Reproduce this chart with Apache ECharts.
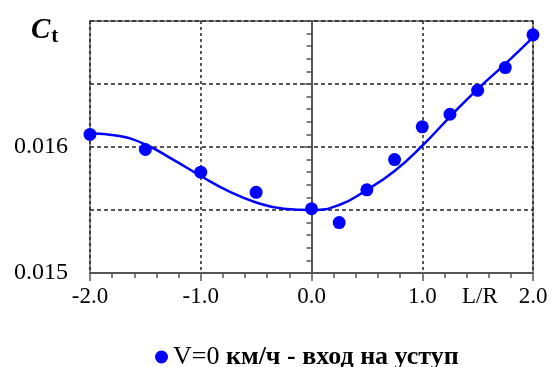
<!DOCTYPE html>
<html lang="ru">
<head>
<meta charset="UTF-8">
<title>Ct vs L/R</title>
<script src="https://cdn.jsdelivr.net/npm/echarts@6/dist/echarts.min.js"></script>
<style>
  html, body { margin: 0; padding: 0; background: #fff; }
  #chart { width: 552px; height: 367px; }
</style>
</head>
<body>
<div id="chart"></div>
<script>
  // measured points
  const pointX = [-2.0, -1.5, -1.0, -0.5, 0.0, 0.25, 0.5, 0.75, 1.0, 1.25, 1.5, 1.75, 2.0];
  const pointCt = [0.01610, 0.01598, 0.01580, 0.01564, 0.01551, 0.01540, 0.01566, 0.01590, 0.01616, 0.01626, 0.01645, 0.01663, 0.01689];

  // fitted curve
  const curveX = [-2.0, -1.75, -1.5, -1.25, -1.0, -0.75, -0.5, -0.25, 0.0, 0.25, 0.5, 0.75, 1.0, 1.25, 1.5, 1.75, 2.0];
  const curveCt = [0.01611, 0.01609, 0.01602, 0.01590, 0.01577, 0.01565, 0.01556, 0.01551, 0.01550, 0.01554, 0.01566, 0.01581, 0.01601, 0.01624, 0.01646, 0.01666, 0.01687];

  const yLabels = [0.015, 0.016];
  const legendName = 'V=0 км/ч - вход на уступ';

  const serif = '"Liberation Serif", "DejaVu Serif", serif';
  const blue = '#0000ff';

  const chart = echarts.init(document.getElementById('chart'));
  chart.setOption({
    animation: false,
    textStyle: { fontFamily: serif },
    title: {
      text: '{c|C}{t|t}',
      left: 26, top: 9,
      textStyle: {
        rich: {
          c: { fontFamily: serif, fontStyle: 'italic', fontWeight: 'bold', fontSize: 29, color: '#000' },
          t: { fontFamily: serif, fontWeight: 'bold', fontSize: 21, color: '#000', padding: [12, 0, 0, 1] }
        }
      }
    },
    graphic: [{
      type: 'text', left: 462, top: 285,
      style: { text: 'L/R', font: '23px ' + serif, fill: '#000' }
    }],
    legend: {
      left: 150, top: 339,
      itemWidth: 13, itemHeight: 13, itemGap: 10,
      data: [{ name: legendName, icon: 'circle' }],
      formatter: () => '{a|V=0 }{b|км/ч - вход на уступ}',
      textStyle: {
        rich: {
          a: { fontFamily: serif, fontSize: 26, color: '#000' },
          b: { fontFamily: serif, fontSize: 26, fontWeight: 'bold', color: '#000' }
        }
      }
    },
    grid: {
      left: 90, right: 19, top: 21, bottom: 94,
      show: true, borderColor: '#888', borderWidth: 2
    },
    xAxis: {
      type: 'value', min: -2, max: 2, interval: 1,
      axisLine: { lineStyle: { color: '#555', width: 2 } },
      axisTick: { length: 8, lineStyle: { color: '#555', width: 1.5 } },
      minorTick: { show: true, splitNumber: 5, length: 5, lineStyle: { color: '#555', width: 1.5 } },
      splitLine: { show: true, lineStyle: { color: '#222', type: [3, 3], width: 1.5 } },
      axisLabel: {
        margin: 12, fontSize: 23, color: '#000', fontFamily: serif,
        formatter: v => v.toFixed(1)
      }
    },
    yAxis: {
      type: 'value', min: 0.015, max: 0.017, interval: 0.0005,
      axisLine: { show: true, lineStyle: { color: '#555', width: 2 } },
      axisTick: { show: true, length: 8, lineStyle: { color: '#555', width: 1.5 } },
      minorTick: { show: true, splitNumber: 5, length: 5, lineStyle: { color: '#555', width: 1.5 } },
      splitLine: { show: true, lineStyle: { color: '#222', type: [4, 3], width: 1.5 } },
      axisLabel: {
        margin: 22, fontSize: 24, color: '#000', fontFamily: serif,
        formatter: v => yLabels.some(l => Math.abs(l - v) < 1e-9) ? v.toFixed(3) : ''
      }
    },
    series: [
      {
        type: 'line', smooth: true, showSymbol: false, silent: true,
        data: curveX.map((x, i) => [x, curveCt[i]]),
        lineStyle: { color: blue, width: 2.5 },
        z: 3
      },
      {
        name: legendName, type: 'scatter', clip: false,
        symbol: 'circle', symbolSize: 13,
        data: pointX.map((x, i) => [x, pointCt[i]]),
        itemStyle: { color: blue, opacity: 1 },
        z: 4
      }
    ]
  });
</script>
</body>
</html>
